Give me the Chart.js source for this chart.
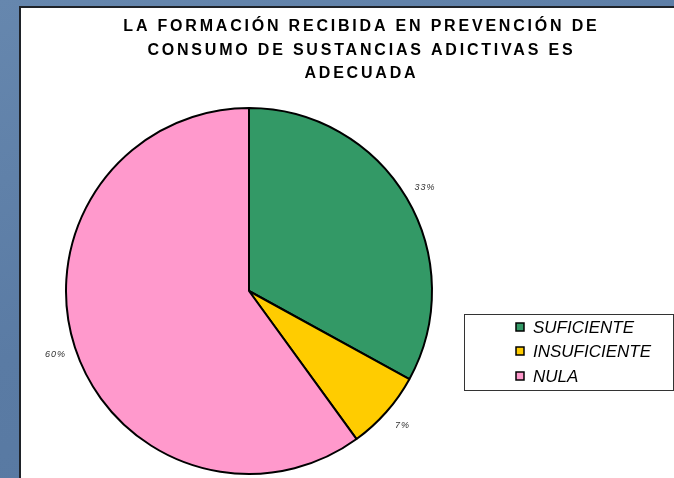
<!DOCTYPE html>
<html>
<head>
<meta charset="utf-8">
<script src="https://cdn.jsdelivr.net/npm/chart.js@4/dist/chart.umd.min.js"></script>
<style>
  html,body{margin:0;padding:0;width:674px;height:478px;overflow:hidden;
    background:linear-gradient(160deg,#6687ae 0%,#5a7ba4 50%,#5677a0 100%);}
  #panel{position:absolute;left:19px;top:6px;width:700px;height:500px;background:#fff;
    border-left:2px solid #1e2228;border-top:2px solid #1e2228;box-sizing:border-box;}
  #wrap{position:absolute;left:0;top:0;width:674px;height:478px;}
</style>
</head>
<body>
<div id="panel"></div>
<div id="wrap"><canvas id="c"></canvas></div>
<script>
const titleLines = ['LA FORMACIÓN RECIBIDA EN PREVENCIÓN DE', 'CONSUMO DE SUSTANCIAS ADICTIVAS ES', 'ADECUADA'];
const categories = ['SUFICIENTE', 'INSUFICIENTE', 'NULA'];
const values = [33, 7, 60];
const colors = ['#339966', '#FFCC00', '#FF99CC'];

const FONT = "'Liberation Sans', Arial, sans-serif";

// texto con espaciado entre letras, centrado en x
function spacedText(ctx, txt, x, y, spacing){
  ctx.letterSpacing = spacing + 'px';
  const w = ctx.measureText(txt).width - spacing;
  ctx.textAlign = 'left';
  ctx.fillText(txt, x - w/2, y);
  ctx.letterSpacing = '0px';
}

const decor = {
  id:'decor',
  afterDraw(chart){
    const ctx = chart.ctx;
    ctx.save();
    // titulo
    ctx.fillStyle = '#000';
    ctx.textBaseline = 'middle';
    ctx.font = 'bold 16px ' + FONT;
    titleLines.forEach((l,i)=> spacedText(ctx, l, 360, 27 + i*23.5, 2.8));

    // porcentajes fuera del pastel
    const meta = chart.getDatasetMeta(0);
    ctx.font = 'italic 9px ' + FONT;
    ctx.fillStyle = '#333';
    meta.data.forEach((arc,i)=>{
      const p = arc.getProps(['x','y','startAngle','endAngle','outerRadius'], true);
      const a = (p.startAngle + p.endAngle)/2;
      const r = p.outerRadius + 21;
      spacedText(ctx, values[i] + '%', p.x + Math.cos(a)*r, p.y + Math.sin(a)*r, 1);
    });

    // leyenda
    ctx.strokeStyle = '#333';
    ctx.lineWidth = 1;
    ctx.strokeRect(464.5, 314.5, 209, 76);
    const ys = [327, 351, 376];
    ctx.font = 'italic 17px ' + FONT;
    categories.forEach((c,i)=>{
      ctx.fillStyle = colors[i];
      ctx.fillRect(516, ys[i]-4, 8, 8);
      ctx.strokeStyle = '#000';
      ctx.lineWidth = 1.5;
      ctx.strokeRect(516, ys[i]-4, 8, 8);
      ctx.fillStyle = '#000';
      ctx.textAlign = 'left';
      ctx.fillText(c, 533, ys[i]+1);
    });
    ctx.restore();
  }
};

new Chart(document.getElementById('c'), {
  type:'pie',
  data:{ labels: categories, datasets:[{ data: values, backgroundColor: colors, borderColor:'#000', borderWidth:2 }] },
  options:{
    responsive:true,
    maintainAspectRatio:false,
    animation:false,
    layout:{ padding:{ left:65, right:241, top:107, bottom:3 } },
    plugins:{ legend:{ display:false }, tooltip:{ enabled:false }, title:{ display:false } }
  },
  plugins:[decor]
});
</script>
</body>
</html>
